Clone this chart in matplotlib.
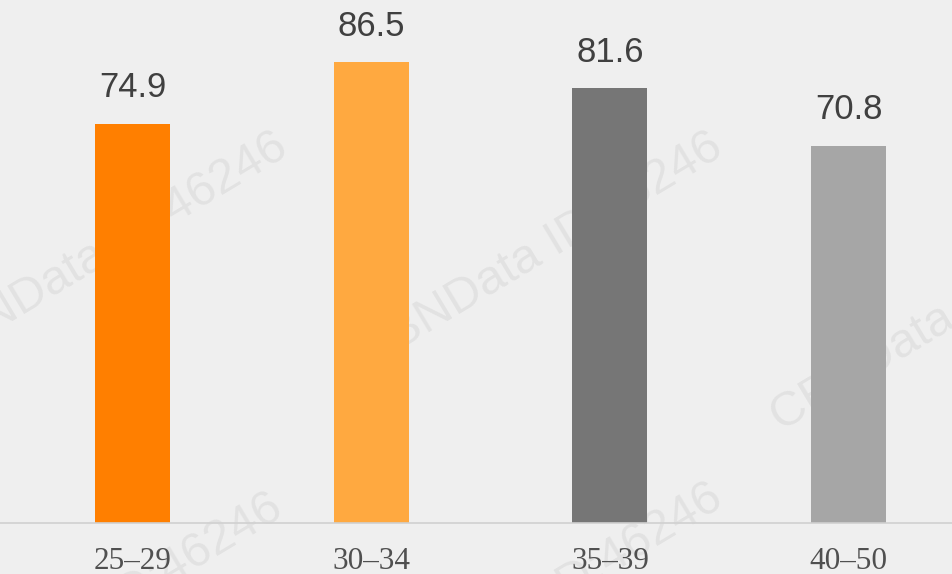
import matplotlib.pyplot as plt

# data
age_groups = ["25-29", "30-34", "35-39", "40-50"]
values = [74.9, 86.5, 81.6, 70.8]
bar_colors = ["#FF7F00", "#FFA940", "#767676", "#A6A6A6"]

bg = "#EFEFEF"

fig = plt.figure(figsize=(9.53, 5.74), dpi=100, facecolor=bg)
ax = fig.add_axes([0, 51 / 574, 1, 523 / 574])
ax.set_facecolor(bg)

x = range(len(values))
bars = ax.bar(x, values, width=0.314, color=bar_colors, zorder=2)

for b, v in zip(bars, values):
    ax.text(b.get_x() + b.get_width() / 2, v + 3.6, f"{v:.1f}",
            ha="center", va="bottom", fontsize=25, color="#404040",
            family="Liberation Sans")

# faint watermarks behind the bars
for wx, wy in [(0.11, 0.52), (0.567, 0.52), (1.0, 0.40), (0.105, -0.17), (0.567, -0.15)]:
    ax.text(wx, wy, "CBNData ID:46246", transform=ax.transAxes, rotation=31,
            fontsize=35, color="#000000", alpha=0.055, ha="center", va="center",
            family="Liberation Sans", zorder=1, clip_on=False)

ax.set_xlim(-0.555, 3.437)
ax.set_ylim(0, 98.1)
ax.set_xticks(list(x))
ax.set_xticklabels([g.replace("-", "\u2013") for g in age_groups], family="Liberation Serif",
                   fontsize=22.5, color="#505050")
ax.tick_params(axis="x", length=0, pad=17)
ax.set_yticks([])
for s in ["top", "left", "right"]:
    ax.spines[s].set_visible(False)
ax.spines["bottom"].set_color("#D0D0D0")
ax.spines["bottom"].set_linewidth(1.2)

fig.savefig("out.png", dpi=100, facecolor=bg)
